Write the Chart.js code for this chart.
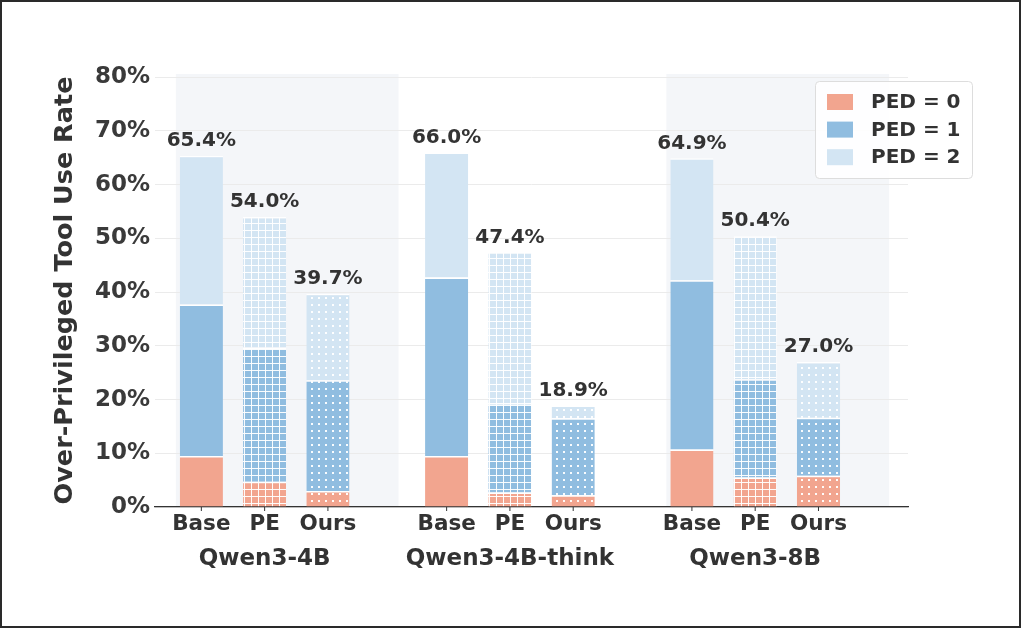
<!DOCTYPE html>
<html>
<head>
<meta charset="utf-8">
<script src="https://cdn.jsdelivr.net/npm/chart.js@4.4.1/dist/chart.umd.min.js"></script>
<style>
  html, body { margin: 0; padding: 0; background: #fff; }
  #chart { display: block; }
</style>
</head>
<body>
<canvas id="chart" width="1021" height="628"></canvas>
<script>
// Data
const groups = ['Qwen3-4B', 'Qwen3-4B-think', 'Qwen3-8B'];
const methods = ['Base', 'PE', 'Ours'];
const pedLabels = ['PED = 0', 'PED = 1', 'PED = 2'];
const yTickValues = [0, 10, 20, 30, 40, 50, 60, 70, 80];

const basePed0 = [9.5, 9.5, 10.7];
const basePed1 = [28.2, 33.2, 31.5];
const basePed2 = [27.7, 23.3, 22.7];
const pePed0 = [4.7, 2.7, 5.5];
const pePed1 = [25.0, 16.6, 18.3];
const pePed2 = [24.3, 28.1, 26.6];
const oursPed0 = [3.0, 2.2, 5.8];
const oursPed1 = [20.6, 14.3, 10.8];
const oursPed2 = [16.1, 2.4, 10.4];

const methodSeries = [
  [basePed0, basePed1, basePed2],
  [pePed0, pePed1, pePed2],
  [oursPed0, oursPed1, oursPed2]
];

// Styles
const pedColors = ['#f2a58f', '#90bde0', '#d3e5f3'];
const textColor = '#333333';
const fontFamily = "'DejaVu Sans', sans-serif";
const shadedGroups = [0, 2];

const canvas = document.getElementById('chart');
const ctx = canvas.getContext('2d');

function gridPattern(color) {
  const c = document.createElement('canvas');
  c.width = 7; c.height = 7;
  const g = c.getContext('2d');
  g.fillStyle = color;
  g.fillRect(0, 0, 7, 7);
  g.fillStyle = 'rgba(255,255,255,0.95)';
  g.fillRect(6, 0, 1, 7);
  g.fillRect(0, 6, 7, 1);
  return ctx.createPattern(c, 'repeat');
}

function dotPattern(color) {
  const c = document.createElement('canvas');
  c.width = 7; c.height = 7;
  const g = c.getContext('2d');
  g.fillStyle = color;
  g.fillRect(0, 0, 7, 7);
  g.fillStyle = 'rgba(255,255,255,0.95)';
  g.fillRect(3, 3, 2, 2);
  return ctx.createPattern(c, 'repeat');
}

function fillFor(methodIndex, ped) {
  if (methodIndex === 1) return gridPattern(pedColors[ped]);
  if (methodIndex === 2) return dotPattern(pedColors[ped]);
  return pedColors[ped];
}

const datasets = [];
methods.forEach((m, mi) => {
  methodSeries[mi].forEach((vals, p) => {
    datasets.push({
      label: m + ' ' + pedLabels[p],
      stack: m,
      data: vals.map((v, gi) => ({ x: gi, y: v })),
      backgroundColor: fillFor(mi, p),
      borderColor: '#ffffff',
      borderWidth: { top: 1.5, bottom: 0, left: 0, right: 0 },
      borderSkipped: false,
      categoryPercentage: 0.774,
      barPercentage: 0.682
    });
  });
});

// Background shading, labels, legend
const decorPlugin = {
  id: 'decor',
  beforeDraw(chart) {
    const { ctx, chartArea, scales } = chart;
    ctx.save();
    ctx.fillStyle = '#ffffff';
    ctx.fillRect(0, 0, chart.width, chart.height);
    ctx.fillStyle = '#f4f6f9';
    shadedGroups.forEach(g => {
      const x0 = scales.x.getPixelForValue(g - 0.362);
      const x1 = scales.x.getPixelForValue(g + 0.546);
      ctx.fillRect(x0, chartArea.top, x1 - x0, chartArea.bottom - chartArea.top);
    });
    ctx.restore();
  },
  afterDraw(chart) {
    const { ctx, chartArea } = chart;
    ctx.save();
    ctx.fillStyle = textColor;
    ctx.strokeStyle = textColor;
    ctx.textAlign = 'center';
    ctx.textBaseline = 'middle';

    methods.forEach((m, mi) => {
      const topMeta = chart.getDatasetMeta(mi * 3 + 2);
      groups.forEach((g, gi) => {
        const bar = topMeta.data[gi];
        const total = methodSeries[mi].reduce((s, arr) => s + arr[gi], 0);
        ctx.font = 'bold 20px ' + fontFamily;
        ctx.fillText(total.toFixed(1) + '%', bar.x, bar.y - 15);
        ctx.font = 'bold 21.5px ' + fontFamily;
        ctx.fillText(m, bar.x, chartArea.bottom + 17);
        ctx.lineWidth = 1;
        ctx.beginPath();
        ctx.moveTo(bar.x, chartArea.bottom);
        ctx.lineTo(bar.x, chartArea.bottom + 4);
        ctx.stroke();
      });
    });

    // legend
    const lx = 815, ly = 81, lw = 157, lh = 97;
    ctx.fillStyle = 'rgba(255,255,255,0.9)';
    ctx.strokeStyle = '#dddddd';
    ctx.lineWidth = 1;
    ctx.beginPath();
    ctx.roundRect(lx + 0.5, ly + 0.5, lw, lh, 4);
    ctx.fill();
    ctx.stroke();
    ctx.textAlign = 'left';
    ctx.font = 'bold 20px ' + fontFamily;
    pedLabels.forEach((lab, p) => {
      const cy = 102 + p * 27.6;
      ctx.fillStyle = pedColors[p];
      ctx.fillRect(827, cy - 8, 26, 16);
      ctx.fillStyle = textColor;
      ctx.fillText(lab, 871, cy + 1);
    });

    // frame
    ctx.strokeStyle = '#2a2a2a';
    ctx.lineWidth = 2;
    ctx.strokeRect(1, 1, chart.width - 2, chart.height - 2);
    ctx.restore();
  }
};

new Chart(canvas, {
  type: 'bar',
  data: { datasets: datasets },
  options: {
    responsive: false,
    animation: false,
    layout: { padding: { left: 0, right: 113, top: 74, bottom: 0 } },
    plugins: {
      legend: { display: false },
      tooltip: { enabled: false }
    },
    scales: {
      x: {
        type: 'linear',
        stacked: true,
        offset: false,
        min: -0.447,
        max: 2.623,
        grid: { display: false, drawTicks: false },
        border: { display: true, color: '#333333', width: 1.3 },
        afterBuildTicks: s => { s.ticks = groups.map((g, i) => ({ value: i })); },
        afterFit: s => { s.height = 121; },
        ticks: {
          autoSkip: false,
          maxRotation: 0,
          padding: 38,
          color: textColor,
          font: { family: fontFamily, size: 23, weight: 'bold' },
          callback: v => groups[v]
        }
      },
      y: {
        stacked: true,
        min: 0,
        max: 80.6,
        grid: { color: '#ebebeb', lineWidth: 1, drawTicks: false },
        border: { display: false },
        afterBuildTicks: s => { s.ticks = yTickValues.map(v => ({ value: v })); },
        afterFit: s => { s.width = 155; },
        ticks: {
          padding: 5,
          color: '#3a3a3a',
          font: { family: fontFamily, size: 23, weight: 'bold' },
          callback: v => v + '%'
        },
        title: {
          display: true,
          text: 'Over-Privileged Tool Use Rate',
          color: textColor,
          font: { family: fontFamily, size: 25.5, weight: 'bold' },
          padding: { top: 50, bottom: 0 }
        }
      }
    }
  },
  plugins: [decorPlugin]
});
</script>
</body>
</html>
